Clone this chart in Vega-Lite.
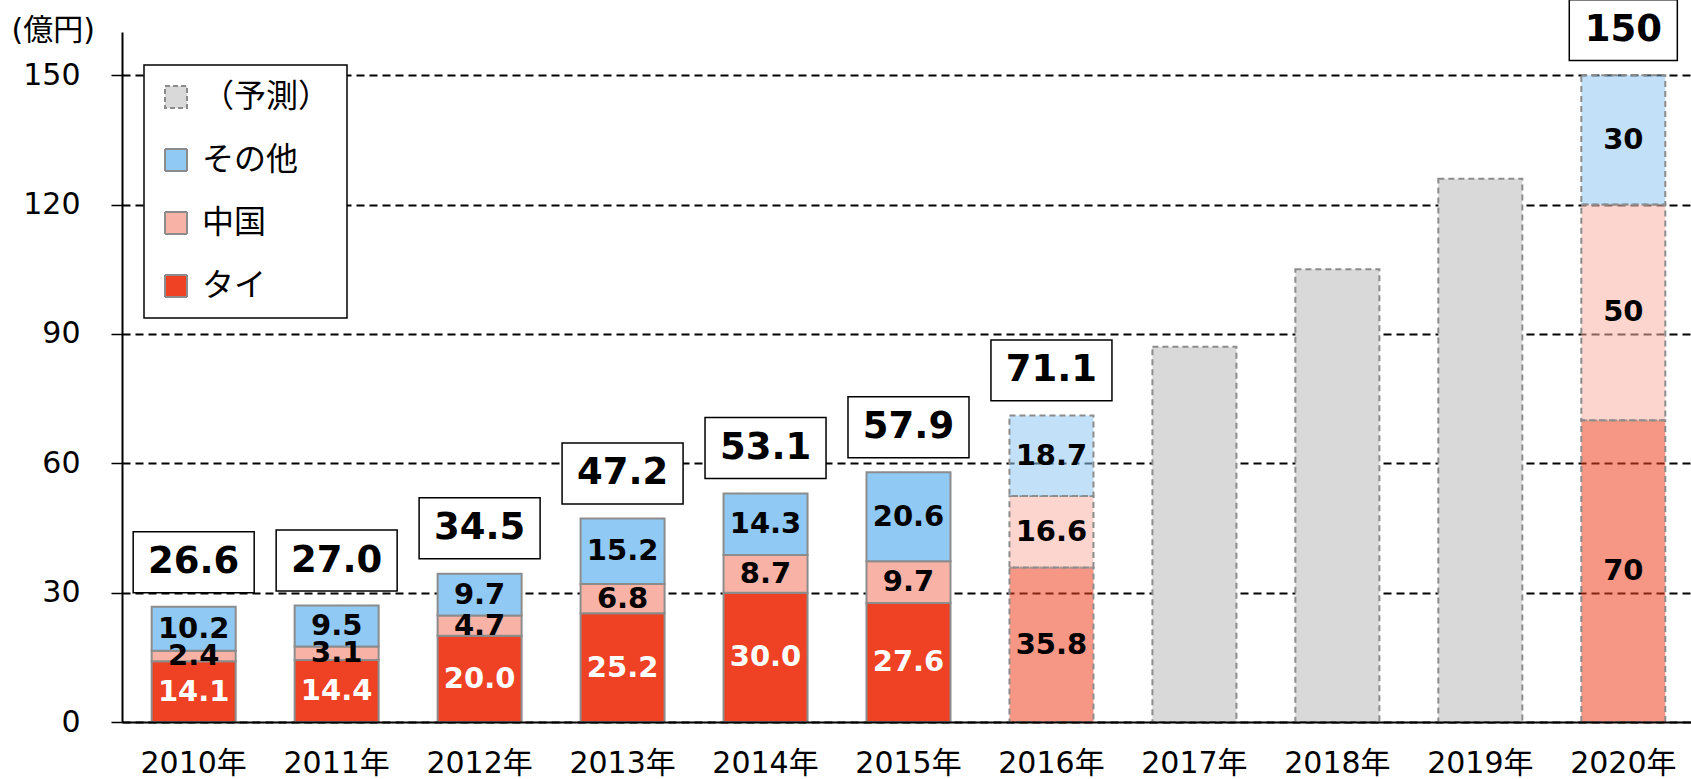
{
  "$schema": "https://vega.github.io/schema/vega-lite/v6.json",
  "autosize": {"type": "none"},
  "width": 1569,
  "height": 690,
  "padding": {"left": 122, "top": 32, "right": 0, "bottom": 57},
  "background": "white",
  "config": {
    "view": {"stroke": null},
    "font": "DejaVu Sans, Noto Sans CJK JP"
  },
  "datasets": {
    "main": [
      {"y": "2010年", "s": "タイ", "v": 14.1, "fc": false},
      {"y": "2010年", "s": "中国", "v": 2.4, "fc": false},
      {"y": "2010年", "s": "その他", "v": 10.2, "fc": false},
      {"y": "2011年", "s": "タイ", "v": 14.4, "fc": false},
      {"y": "2011年", "s": "中国", "v": 3.1, "fc": false},
      {"y": "2011年", "s": "その他", "v": 9.5, "fc": false},
      {"y": "2012年", "s": "タイ", "v": 20.0, "fc": false},
      {"y": "2012年", "s": "中国", "v": 4.7, "fc": false},
      {"y": "2012年", "s": "その他", "v": 9.7, "fc": false},
      {"y": "2013年", "s": "タイ", "v": 25.2, "fc": false},
      {"y": "2013年", "s": "中国", "v": 6.8, "fc": false},
      {"y": "2013年", "s": "その他", "v": 15.2, "fc": false},
      {"y": "2014年", "s": "タイ", "v": 30.0, "fc": false},
      {"y": "2014年", "s": "中国", "v": 8.7, "fc": false},
      {"y": "2014年", "s": "その他", "v": 14.3, "fc": false},
      {"y": "2015年", "s": "タイ", "v": 27.6, "fc": false},
      {"y": "2015年", "s": "中国", "v": 9.7, "fc": false},
      {"y": "2015年", "s": "その他", "v": 20.6, "fc": false},
      {"y": "2016年", "s": "タイ", "v": 35.8, "fc": true},
      {"y": "2016年", "s": "中国", "v": 16.6, "fc": true},
      {"y": "2016年", "s": "その他", "v": 18.7, "fc": true},
      {"y": "2017年", "s": "（予測）", "v": 87, "fc": true},
      {"y": "2018年", "s": "（予測）", "v": 105, "fc": true},
      {"y": "2019年", "s": "（予測）", "v": 126, "fc": true},
      {"y": "2020年", "s": "タイ", "v": 70, "fc": true},
      {"y": "2020年", "s": "中国", "v": 50, "fc": true},
      {"y": "2020年", "s": "その他", "v": 30, "fc": true}
    ],
    "totals": [
      {"y": "2010年", "total": 26.6},
      {"y": "2011年", "total": 27.0},
      {"y": "2012年", "total": 34.5},
      {"y": "2013年", "total": 47.2},
      {"y": "2014年", "total": 53.1},
      {"y": "2015年", "total": 57.9},
      {"y": "2016年", "total": 71.1},
      {"y": "2020年", "total": 150}
    ]
  },
  "encoding": {
    "x": {
      "field": "y",
      "type": "nominal",
      "title": null,
      "scale": {"paddingInner": 0.4124, "paddingOuter": 0.1937, "align": 0.536},
      "axis": {
        "labelAngle": 0,
        "labelFont": "DejaVu Sans, Noto Sans CJK JP",
        "labelFontSize": 30,
        "labelColor": "black",
        "labelPadding": 26,
        "ticks": false,
        "domainColor": "black",
        "domainWidth": 2,
        "grid": false,
        "zindex": 2
      }
    }
  },
  "layer": [
    {
      "data": {"name": "main"},
      "transform": [
        {"calculate": "indexof(['タイ','中国','その他','（予測）'], datum.s)", "as": "ord"},
        {"stack": "v", "groupby": ["y"], "sort": [{"field": "ord"}], "as": ["v0", "v1"]},
        {"calculate": "(datum.v0 + datum.v1) / 2", "as": "mid"}
      ],
      "layer": [
        {
          "mark": {"type": "bar", "stroke": "#8c8c8c", "strokeWidth": 2},
          "encoding": {
            "y": {
              "field": "v1",
              "type": "quantitative",
              "title": "(億円)",
              "scale": {"domain": [0, 160], "nice": false},
              "axis": {
                "values": [0, 30, 60, 90, 120, 150],
                "labelFont": "DejaVu Sans",
                "labelFontSize": 30,
                "labelColor": "black",
                "labelPadding": 31,
                "tickSize": 11,
                "tickColor": "black",
                "tickWidth": 1.5,
                "domainColor": "black",
                "domainWidth": 2,
                "grid": true,
                "gridColor": "black",
                "gridWidth": 2,
                "gridDash": [8, 5],
                "titleAngle": 0,
                "titleX": -111,
                "titleY": -2,
                "titleAlign": "left",
                "titleBaseline": "middle",
                "titleFont": "DejaVu Sans, Noto Sans CJK JP",
                "titleFontSize": 30,
                "titleFontWeight": "normal",
                "titleColor": "black"
              }
            },
            "y2": {"field": "v0"},
            "color": {
              "field": "s",
              "type": "nominal",
              "scale": {
                "domain": ["（予測）", "その他", "中国", "タイ"],
                "range": ["#D9D9D9", "#8FC9F4", "#F9B3A6", "#EF4123"]
              },
              "legend": {
                "title": null,
                "orient": "none",
                "legendX": 22,
                "legendY": 33,
                "fillColor": "white",
                "strokeColor": "black",
                "padding": 16,
                "symbolType": "square",
                "symbolSize": 484,
                "symbolStrokeColor": "#8c8c8c",
                "symbolStrokeWidth": 2,
                "symbolOpacity": 1,
                "labelFont": "Noto Sans CJK JP",
                "labelFontSize": 32,
                "labelColor": "black",
                "labelOffset": 10,
                "rowPadding": 31,
                "labelLimit": 300,
                "encode": {
                  "legend": {"update": {"strokeWidth": {"value": 1.5}}},
                  "symbols": {
                    "update": {
                      "strokeDash": {"signal": "datum.label === '（予測）' ? [5, 3] : [1, 0]"},
                      "fillOpacity": {"value": 1}
                    }
                  }
                }
              }
            },
            "fillOpacity": {
              "condition": {"test": "datum.fc && datum.s !== '（予測）'", "value": 0.55},
              "value": 1
            },
            "strokeDash": {
              "condition": {"test": "datum.fc", "value": [6, 4]},
              "value": [1, 0]
            }
          }
        },
        {
          "transform": [{"filter": "datum.s !== '（予測）'"}],
          "mark": {"type": "text", "fontWeight": "bold", "fontSize": 29, "font": "DejaVu Sans", "baseline": "middle", "align": "center"},
          "encoding": {
            "y": {"field": "mid", "type": "quantitative"},
            "text": {
              "condition": {"test": "datum.y === '2020年'", "field": "v", "type": "quantitative", "format": "d"},
              "field": "v",
              "type": "quantitative",
              "format": ".1f"
            },
            "color": {
              "condition": {"test": "datum.s === 'タイ' && !datum.fc", "value": "white"},
              "value": "black"
            }
          }
        }
      ]
    },
    {
      "data": {"name": "totals"},
      "layer": [
        {
          "mark": {"type": "point", "filled": true, "fill": "white", "stroke": "black", "strokeWidth": 1.5, "opacity": 1, "fillOpacity": 1, "size": 14641, "yOffset": -45},
          "encoding": {
            "y": {"field": "total", "type": "quantitative"},
            "shape": {
              "condition": {"test": "datum.y === '2020年'", "value": "M-0.893,-0.504H0.893V0.504H-0.893Z"},
              "value": "M-1,-0.504H1V0.504H-1Z"
            }
          }
        },
        {
          "mark": {"type": "text", "fontWeight": "bold", "fontSize": 37, "font": "DejaVu Sans", "baseline": "middle", "align": "center", "color": "black", "yOffset": -45},
          "encoding": {
            "y": {"field": "total", "type": "quantitative"},
            "text": {
              "condition": {"test": "datum.y === '2020年'", "field": "total", "type": "quantitative", "format": "d"},
              "field": "total",
              "type": "quantitative",
              "format": ".1f"
            }
          }
        }
      ]
    }
  ]
}
